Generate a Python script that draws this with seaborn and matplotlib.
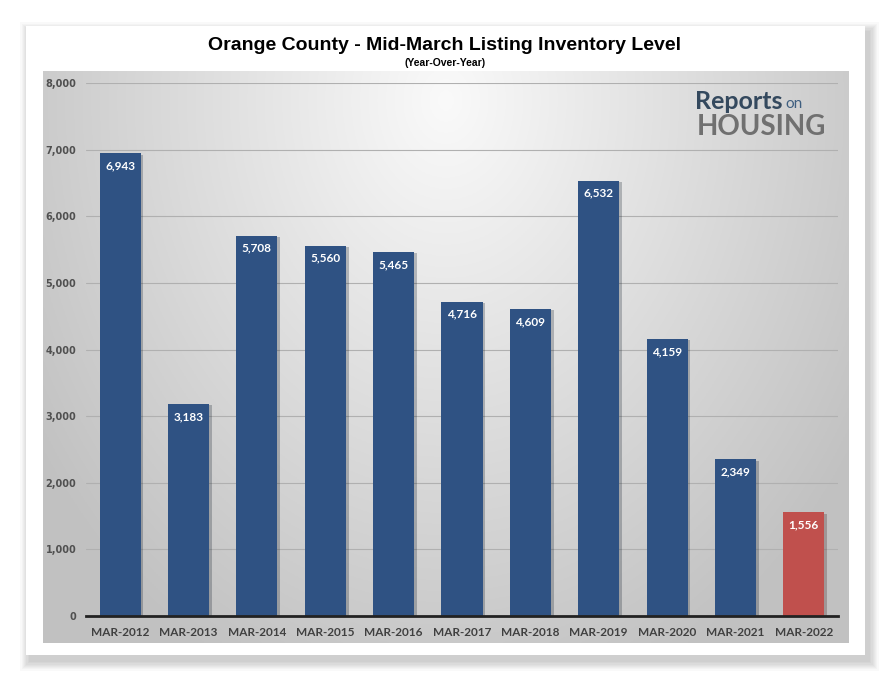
import numpy as np
import pandas as pd
import seaborn as sns
import matplotlib.pyplot as plt
import matplotlib.patheffects as pe
from matplotlib.patches import Rectangle
from matplotlib.ticker import FuncFormatter

# chart data
months = ["MAR-2012", "MAR-2013", "MAR-2014", "MAR-2015", "MAR-2016", "MAR-2017",
          "MAR-2018", "MAR-2019", "MAR-2020", "MAR-2021", "MAR-2022"]
inventory = [6943, 3183, 5708, 5560, 5465, 4716, 4609, 6532, 4159, 2349, 1556]
bar_colors = ["#2F5283"] * 10 + ["#C0504D"]

df = pd.DataFrame({"month": months, "inventory": inventory})

sns.set_theme(style="white")
plt.rcParams["font.family"] = ["Liberation Sans", "DejaVu Sans"]

fig = plt.figure(figsize=(8.9, 6.8), dpi=100)

# background layer in pixel coordinates: shadowed white card and gray gradient panel
bg = fig.add_axes([0, 0, 1, 1], zorder=0)
bg.set_xlim(0, 890)
bg.set_ylim(680, 0)
bg.axis("off")
for d in range(16, 0, -2):
    bg.add_patch(Rectangle((26 - d * 0.6 + 4, 26 - d * 0.6 + 6), 839 + d * 1.2, 629 + d * 1.2,
                           color="black", alpha=0.025, lw=0))
bg.add_patch(Rectangle((26, 26), 839, 629, color="white", lw=0))

gx, gy = np.meshgrid(np.linspace(-1, 1, 400), np.linspace(0, 1, 300))
r = np.sqrt((gx / 1.1) ** 2 + ((gy - 0.05) / 1.0) ** 2)
shade = np.clip(0.98 - 0.2 * r, 0.76, 0.98)
bg.imshow(np.dstack([shade] * 3), extent=(43, 849, 643, 71), aspect="auto", zorder=1)

# main chart
ax = fig.add_axes([86 / 890, 1 - 616 / 680, 752 / 890, 533 / 680], zorder=2)
ax.patch.set_alpha(0)
sns.barplot(data=df, x="month", y="inventory", hue="month", palette=bar_colors,
            legend=False, width=0.6, saturation=1, linewidth=0, ax=ax, zorder=3)
for p in ax.patches:
    p.set_path_effects([pe.SimplePatchShadow(offset=(2, -1), alpha=0.25), pe.Normal()])

ax.set_ylim(0, 8000)
ax.set_yticks(range(0, 8001, 1000))
ax.yaxis.set_major_formatter(FuncFormatter(lambda v, p: f"{v:,.0f}"))
ax.grid(axis="y", color="#b0b0b0", lw=0.8, zorder=0)
ax.set_axisbelow(True)
for s in ["top", "right", "left"]:
    ax.spines[s].set_visible(False)
ax.spines["bottom"].set_color("#222222")
ax.spines["bottom"].set_linewidth(2)
ax.spines["bottom"].set_zorder(5)
ax.set_xlabel("")
ax.set_ylabel("")
ax.tick_params(axis="both", length=0)
ax.tick_params(axis="y", pad=7)
ax.tick_params(axis="x", pad=8)
for lbl in ax.get_yticklabels():
    lbl.set_fontsize(7)
    lbl.set_fontweight("bold")
    lbl.set_color("#505050")
    lbl.set_family(["DejaVu Sans"])
for lbl in ax.get_xticklabels():
    lbl.set_fontsize(8.5)
    lbl.set_fontweight("bold")
    lbl.set_color("#404040")
    lbl.set_family(["Lato", "DejaVu Sans"])

# value labels inside bar tops
for p in ax.patches:
    h = p.get_height()
    ax.annotate(f"{h:,.0f}", (p.get_x() + p.get_width() / 2, h),
                xytext=(0, -9), textcoords="offset points",
                ha="center", va="center", fontsize=8.5, fontweight="bold",
                family=["Lato", "DejaVu Sans"], color="white", zorder=4)

# titles
fig.text(0.5, 1 - 45 / 680, "Orange County - Mid-March Listing Inventory Level",
         ha="center", va="center", fontsize=14, fontweight="bold", color="black")
fig.text(0.5, 1 - 63 / 680, "(Year-Over-Year)", ha="center", va="center",
         fontsize=7.5, fontweight="bold", color="black")

# logo text
bg.text(695, 113, "Reports", fontsize=18, fontweight="bold", color="#34495E",
        ha="left", va="bottom", zorder=5, family=["Lato", "DejaVu Sans"])
bg.text(785, 111, "on", fontsize=11, color="#3F5F80", ha="left", va="bottom", zorder=5,
        family=["Lato", "DejaVu Sans"])
bg.text(697, 140, "HOUSING", fontsize=20, fontweight="bold", color="#707070",
        ha="left", va="bottom", zorder=5, family=["Lato", "DejaVu Sans"])

plt.savefig("out.png", dpi=100)
